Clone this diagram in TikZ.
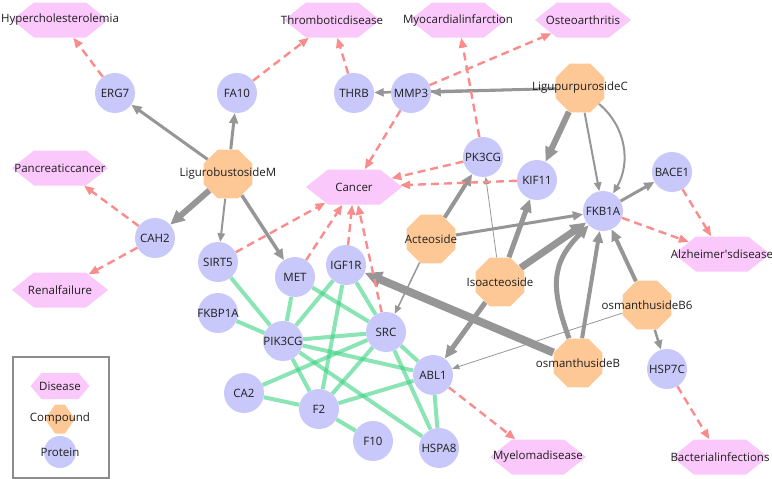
\documentclass[tikz,border=0pt]{standalone}
\usepackage{fontspec}
\setmainfont{Open Sans}
\usetikzlibrary{shapes.geometric,shapes.symbols,arrows.meta}
\definecolor{protc}{RGB}{200,200,250}
\definecolor{compc}{RGB}{253,200,150}
\definecolor{disc}{RGB}{250,200,250}
\definecolor{grayc}{RGB}{150,150,150}
\definecolor{pinkc}{RGB}{250,140,140}
\definecolor{greenc}{RGB}{60,210,130}
\definecolor{txtc}{RGB}{30,30,30}
\definecolor{legc}{RGB}{140,140,140}
\pgfdeclarelayer{bg}
\pgfsetlayers{bg,main}
\begin{document}
\begin{tikzpicture}[x=1pt,y=1pt,
  font=\fontsize{11.5}{13}\selectfont,
  every label/.style={text=txtc, inner sep=0pt, font=\fontsize{11.5}{13}\selectfont},
  prot/.style={circle, fill=protc, minimum size=40pt, inner sep=0pt, label={center:#1}},
  comp/.style={regular polygon, regular polygon sides=8, fill=compc, minimum size=53pt, inner sep=0pt, label={center:#1}},
  dis/.style={signal, signal to=west and east, signal pointer angle=77, fill=disc, minimum width=96pt, minimum height=35pt, inner sep=0pt, label={center:#1}},
  ga/.style={draw=grayc, line width=#1, -{Triangle[length=6pt 1.4, width=4.5pt 1.4]}},
  pa/.style={draw=pinkc, line width=2.4pt, dash pattern=on 8pt off 5pt, -{Triangle[length=10pt, width=8pt]}},
  gl/.style={draw=greenc, line width=4pt, draw opacity=0.6},
  legbox/.style={draw=legc, line width=1.5pt, rectangle, minimum width=96pt, minimum height=121pt, inner sep=0pt},
]
\useasboundingbox (0,0) rectangle (772,-479);
% diseases
\node[dis=Hypercholesterolemia] (hyp) at (60,-20) {};
\node[dis=Thromboticdisease] (thr) at (332,-20) {};
\node[dis=Myocardialinfarction] (myo) at (458,-20) {};
\node[dis=Osteoarthritis] (ost) at (583,-20) {};
\node[dis=Pancreaticcancer] (pan) at (60,-168) {};
\node[dis=Cancer] (can) at (354,-187) {};
\node[dis=Renalfailure] (ren) at (60,-290) {};
\node[dis=Alzheimer\textquotesingle sdisease] (alz) at (722,-254) {};
\node[dis=Myelomadisease] (mye) at (538,-457) {};
\node[dis=Bacterialinfections] (bac) at (720,-457) {};
% compounds
\node[comp=LigurobustosideM] (ligm) at (228,-174) {};
\node[comp=LigupurpurosideC] (ligc) at (580,-88) {};
\node[comp=Acteoside] (act) at (431,-239) {};
\node[comp=Isoacteoside] (iso) at (500,-282) {};
\node[comp=osmanthusideB6] (osb6) at (647,-305) {};
\node[comp=osmanthusideB] (osb) at (578,-363) {};
% proteins
\node[prot=ERG7] (erg7) at (115,-93) {};
\node[prot=FA10] (fa10) at (237,-93) {};
\node[prot=THRB] (thrb) at (354,-93) {};
\node[prot=MMP3] (mmp3) at (411,-93) {};
\node[prot=PK3CG] (pk3cg) at (483,-157) {};
\node[prot=KIF11] (kif11) at (537,-180) {};
\node[prot=BACE1] (bace1) at (672,-172) {};
\node[prot=FKB1A] (fkb1a) at (603,-211) {};
\node[prot=CAH2] (cah2) at (155,-238) {};
\node[prot=SIRT5] (sirt5) at (218,-262) {};
\node[prot=MET] (met) at (295,-277) {};
\node[prot=IGF1R] (igf1r) at (346,-265) {};
\node[prot=FKBP1A] (fkbp1a) at (218,-313) {};
\node[prot=PIK3CG] (pik3cg) at (283,-341) {};
\node[prot=SRC] (src) at (386,-332) {};
\node[prot=ABL1] (abl1) at (433,-375) {};
\node[prot=CA2] (ca2) at (244,-393) {};
\node[prot=F2] (f2) at (319,-409) {};
\node[prot=F10] (f10) at (373,-441) {};
\node[prot=HSPA8] (hspa8) at (439,-448) {};
\node[prot=HSP7C] (hsp7c) at (667,-369) {};
% legend
\node[legbox] (legend) at (61,-417.5) {};
\node[dis=Disease, minimum width=59pt, minimum height=26pt, signal pointer angle=100] (ldis) at (60,-386) {};
\node[signal, signal to=west and east, signal pointer angle=110, fill=compc, minimum width=30pt, minimum height=29pt, inner sep=0pt, label={center:Compound}] (lcomp) at (60,-419) {};
\node[prot=Protein, minimum size=32pt] (lprot) at (60,-452) {};

\begin{pgfonlayer}{bg}
% green protein-protein
\draw[gl] (sirt5) -- (pik3cg);
\draw[gl] (fkbp1a) -- (pik3cg);
\draw[gl] (met) -- (pik3cg);
\draw[gl] (met) -- (src);
\draw[gl] (igf1r) -- (pik3cg);
\draw[gl] (igf1r) -- (f2);
\draw[gl] (igf1r) -- (src);
\draw[gl] (pik3cg) -- (src);
\draw[gl] (pik3cg) -- (abl1);
\draw[gl] (pik3cg) -- (hspa8);
\draw[gl] (pik3cg) -- (f2);
\draw[gl] (ca2) -- (src);
\draw[gl] (ca2) -- (f2);
\draw[gl] (f2) -- (src);
\draw[gl] (f2) -- (abl1);
\draw[gl] (f2) -- (f10);
\draw[gl] (src) -- (abl1);
\draw[gl] (src) -- (hspa8);
\draw[gl] (abl1) -- (hspa8);
% gray compound-protein
\draw[ga=3pt] (ligm) -- (erg7);
\draw[ga=3pt] (ligm) -- (fa10);
\draw[ga=6pt] (ligm) -- (cah2);
\draw[ga=2pt] (ligm) -- (sirt5);
\draw[ga=3.5pt] (ligm) -- (met);
\draw[ga=2.5pt] (ligc) -- (mmp3);
\draw[ga=2.5pt] (ligc) -- (thrb);
\draw[ga=6pt] (ligc) -- (kif11);
\draw[ga=2pt] (ligc) -- (fkb1a);
\draw[ga=2pt] (ligc) to[out=-40,in=60] (fkb1a);
\draw[ga=4pt] (act) -- (pk3cg);
\draw[ga=3pt] (act) -- (fkb1a);
\draw[ga=1.5pt] (act) -- (src);
\draw[ga=0.8pt] (iso) -- (pk3cg);
\draw[ga=5pt] (iso) -- (kif11);
\draw[ga=7pt] (iso) -- (fkb1a);
\draw[ga=5pt] (iso) -- (abl1);
\draw[ga=8pt] (osb) -- (igf1r);
\draw[ga=4pt] (osb) -- (fkb1a);
\draw[ga=5pt] (osb) to[out=110,in=-135,looseness=1.2] (fkb1a);
\draw[ga=4pt] (osb6) -- (fkb1a);
\draw[ga=2.5pt] (osb6) -- (hsp7c);
\draw[ga=0.8pt] (osb6) -- (abl1);
\draw[ga=3pt] (fkb1a) -- (bace1);
% pink protein-disease
\draw[pa] (erg7) -- (hyp);
\draw[pa] (fa10) -- (thr);
\draw[pa] (thrb) -- (thr);
\draw[pa] (mmp3) -- (ost);
\draw[pa] (mmp3) -- (can);
\draw[pa] (pk3cg) -- (myo);
\draw[pa] (pk3cg) -- (can);
\draw[pa] (kif11) -- (can);
\draw[pa] (cah2) -- (pan);
\draw[pa] (cah2) -- (ren);
\draw[pa] (sirt5) -- (can);
\draw[pa] (met) -- (can);
\draw[pa] (igf1r) -- (can);
\draw[pa] (src) -- (can);
\draw[pa] (fkb1a) -- (alz);
\draw[pa] (bace1) -- (alz);
\draw[pa] (abl1) -- (mye);
\draw[pa] (hsp7c) -- (bac);
\end{pgfonlayer}
\end{tikzpicture}
\end{document}
